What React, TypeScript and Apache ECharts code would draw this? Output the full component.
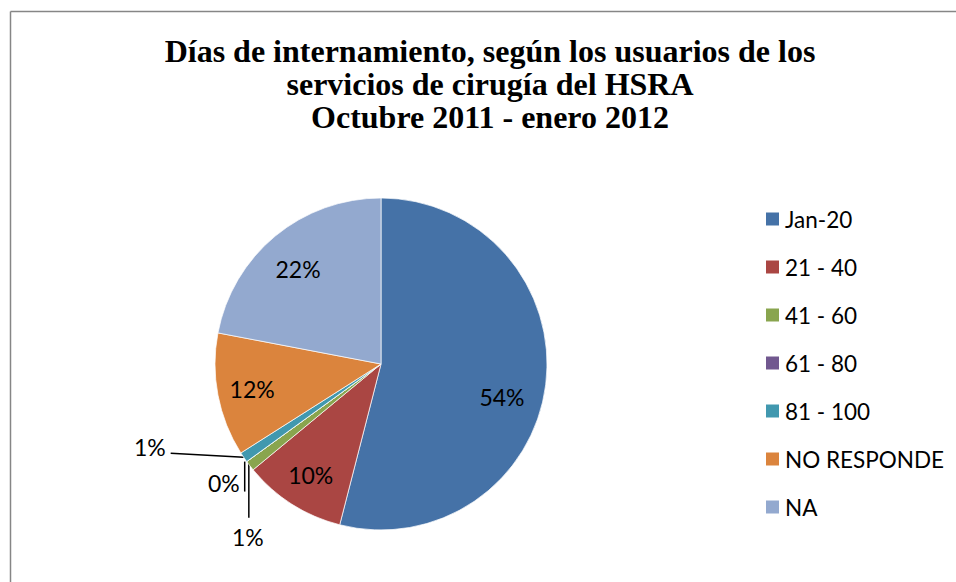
import React, { useEffect, useRef } from "react";
import * as echarts from "echarts";

const titleLines = [
  "Días de internamiento, según los usuarios de los",
  "servicios de cirugía del HSRA",
  "Octubre 2011 - enero 2012",
];
const categories = ["Jan-20", "21 - 40", "41 - 60", "61 - 80", "81 - 100", "NO RESPONDE", "NA"];
const percentages = [54, 10, 1, 0, 1, 12, 22];
const colors = ["#4572A7", "#AA4643", "#89A54E", "#71588F", "#4198AF", "#DB843D", "#93A9CF"];

// layout / style constants
const CX = 381;
const CY = 364;
const R = 166;
const LABEL_FONT = "Lato";
const TITLE_FONT = "'Liberation Serif', 'Times New Roman', 'DejaVu Serif', serif";
const SMALL_LIMIT = 5;
// inside label placement (fraction of radius, angle tweak in degrees)
const insideFrac: Record<number, number> = { 0: 0.755, 1: 0.79, 5: 0.79, 6: 0.76 };
const insideShift: Record<number, number> = { 0: 8, 6: -1.5 };

function midAngle(i: number): number {
  const total = percentages.reduce((a, b) => a + b, 0);
  let acc = 0;
  for (let k = 0; k < i; k++) acc += percentages[k];
  return ((acc + percentages[i] / 2) / total) * 360;
}
function polar(deg: number, r: number): [number, number] {
  const a = (deg * Math.PI) / 180;
  return [CX + r * Math.sin(a), CY - r * Math.cos(a)];
}

export default function App() {
  const ref = useRef<HTMLDivElement>(null);
  useEffect(() => {
    document.body.style.margin = "0";
    const chart = echarts.init(ref.current!, null, { renderer: "svg" });
    const data = categories.map((name, i) => {
      const small = percentages[i] < SMALL_LIMIT;
      return {
        name,
        value: percentages[i],
        label: { position: small ? "outside" : "inside" },
        labelLine: { show: small },
      };
    });
    chart.setOption({
      animation: false,
      backgroundColor: "#fff",
      color: colors,
      graphic: [
        {
          type: "line",
          shape: { x1: 10.5, y1: 11.5, x2: 956, y2: 11.5 },
          style: { stroke: "#868686", lineWidth: 1.5 },
        },
        {
          type: "line",
          shape: { x1: 10.5, y1: 11.5, x2: 10.5, y2: 582 },
          style: { stroke: "#868686", lineWidth: 1.5 },
        },
        {
          type: "text",
          x: 490,
          y: 34,
          style: {
            text: titleLines.join("\n"),
            align: "center",
            verticalAlign: "top",
            fontFamily: TITLE_FONT,
            fontWeight: "bold",
            fontSize: 32,
            lineHeight: 33.3,
            fill: "#000",
          },
        },
      ],
      legend: {
        orient: "vertical",
        left: 764,
        top: 207,
        padding: 0,
        itemWidth: 15,
        itemHeight: 15,
        itemGap: 24,
        icon: "rect",
        selectedMode: false,
        data: categories,
        textStyle: { fontFamily: LABEL_FONT, fontSize: 22.5, lineHeight: 24, color: "#000" },
      },
      series: [
        {
          type: "pie",
          center: [CX, CY],
          radius: R,
          startAngle: 90,
          clockwise: true,
          avoidLabelOverlap: false,
          itemStyle: { borderColor: "#fff", borderWidth: 0.7 },
          label: {
            formatter: "{c}%",
            fontFamily: LABEL_FONT,
            fontSize: 23,
            color: "#000",
          },
          labelLine: { lineStyle: { color: "#000", width: 1.5 }, length: 20, length2: 20 },
          labelLayout: (params: any) => {
            const i = params.dataIndex;
            const ang = midAngle(i);
            if (percentages[i] >= SMALL_LIMIT) {
              const [x, y] = polar(ang + (insideShift[i] || 0), R * (insideFrac[i] || 0.77));
              return { x, y, align: "center", verticalAlign: "middle" };
            }
            const [ex, ey] = polar(ang, R);
            if (i === 4) {
              const end = [ex - 73, ey - 4];
              return {
                x: end[0] - 5,
                y: end[1] - 6,
                align: "right",
                verticalAlign: "middle",
                labelLinePoints: [[ex, ey], end, end],
              };
            }
            if (i === 3) {
              const end = [ex - 2, ey + 30];
              return {
                x: end[0] - 5,
                y: ey + 21,
                align: "right",
                verticalAlign: "middle",
                labelLinePoints: [[ex - 2, ey], end, end],
              };
            }
            const end = [ex - 1, ey + 52];
            return {
              x: ex - 2,
              y: end[1] + 19,
              align: "center",
              verticalAlign: "middle",
              labelLinePoints: [[ex - 1, ey - 3], end, end],
            };
          },
          data,
        },
      ],
    });
    return () => chart.dispose();
  }, []);
  return <div ref={ref} style={{ width: 956, height: 582 }} />;
}
